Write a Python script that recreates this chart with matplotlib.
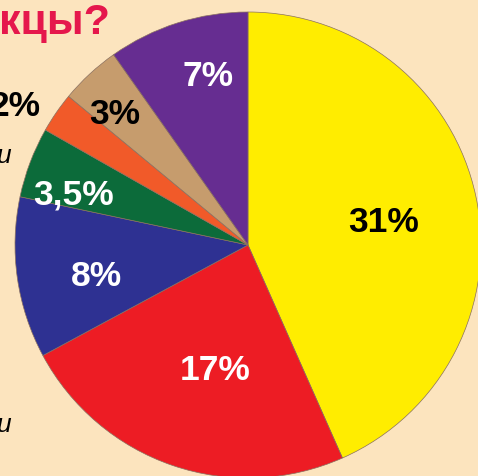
import matplotlib
matplotlib.use("Agg")
import matplotlib.pyplot as plt

# slice data, clockwise from 12 o'clock
labels = ["31%", "17%", "8%", "3,5%", "2%", "3%", "7%"]
values = [31, 17, 8, 3.5, 2, 3, 7]
colors = ["#FFED00", "#ED1C24", "#2E3192", "#0C6B3A", "#F15A29", "#C69C6D", "#662D91"]

W, H = 478, 476
BG = "#FCE4BE"

# label placement in pixel coords (x, y from top), text colour
label_pos = [(384, 222), (215, 370), (96, 277), (74, 195), (None, None), (115, 115), (208, 77)]
label_col = ["black", "white", "white", "white", "black", "black", "white"]

fig = plt.figure(figsize=(W / 100, H / 100), dpi=100)
fig.patch.set_facecolor(BG)
ax = fig.add_axes([0, 0, 1, 1])
ax.set_facecolor(BG)

cx, cy, r = 248, H - 245, 233
ax.pie(values, colors=colors, startangle=90, counterclock=False,
       center=(cx, cy), radius=r, frame=True,
       wedgeprops=dict(edgecolor="#8a7060", linewidth=0.5))
ax.set_xlim(0, W)
ax.set_ylim(0, H)
ax.set_aspect("equal")
ax.axis("off")

font = "Liberation Sans"
for lab, (x, y), c in zip(labels, label_pos, label_col):
    if x is None:
        continue
    ax.text(x, H - y, lab, color=c, fontsize=25.5, fontweight="bold",
            family=font, ha="center", va="center")

# the small slice label sits outside the pie, partly cropped
ax.text(41, H - 107, "2%", color="black", fontsize=25.5, fontweight="bold",
        family=font, ha="right", va="center")

# cropped title and side captions from the page
ax.text(-1, H - 34, "кцы?", color="#E5174C", fontsize=31, fontweight="bold",
        family=font, ha="left", va="baseline")
ax.text(-3, H - 156, "и", color="black", fontsize=19, style="italic",
        family=font, ha="left", va="center")
ax.text(-3, H - 425, "и", color="black", fontsize=19, style="italic",
        family=font, ha="left", va="center")

fig.savefig("out.png", dpi=100, facecolor=BG)
